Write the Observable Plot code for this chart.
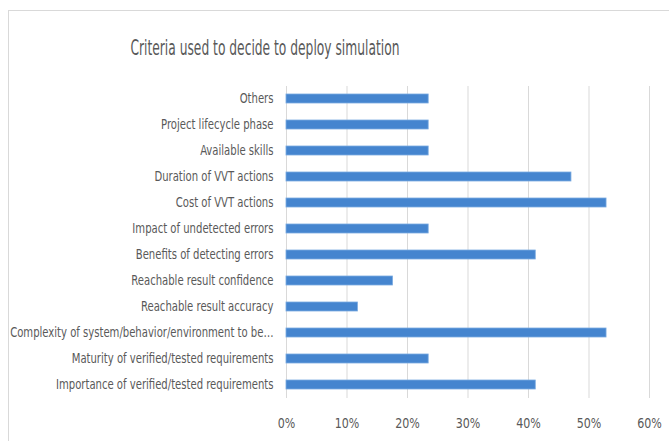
<!DOCTYPE html>
<html><head><meta charset="utf-8">
<script src="https://cdn.jsdelivr.net/npm/d3@7"></script>
<script src="https://cdn.jsdelivr.net/npm/@observablehq/plot@0.6"></script>
<style>
html,body{margin:0;padding:0;background:#fff;width:669px;height:441px;overflow:hidden;position:relative;}
#frame{position:absolute;left:8px;top:10px;width:700px;height:500px;border:1px solid #d9d9d9;box-sizing:border-box;}
#title{position:absolute;left:0;top:35px;width:530px;text-align:center;font-family:"DejaVu Sans Condensed","DejaVu Sans",sans-serif;font-stretch:condensed;font-size:22px;line-height:26px;color:#595959;}
#title span{display:inline-block;transform:scaleX(0.62);transform-origin:center center;white-space:nowrap;}
#chart{position:absolute;left:0;top:70px;}
#chart svg{font-family:"DejaVu Sans Condensed","DejaVu Sans",sans-serif;font-stretch:condensed;}
</style></head>
<body>
<div id="frame"></div>
<div id="title"><span>Criteria used to decide to deploy simulation</span></div>
<div id="chart"></div>
<script>
const categories = [
  "Others",
  "Project lifecycle phase",
  "Available skills",
  "Duration of VVT actions",
  "Cost of VVT actions",
  "Impact of undetected errors",
  "Benefits of detecting errors",
  "Reachable result confidence",
  "Reachable result accuracy",
  "Complexity of system/behavior/environment to be…",
  "Maturity of verified/tested requirements",
  "Importance of verified/tested requirements"
];
const values = [0.235, 0.235, 0.235, 0.471, 0.529, 0.235, 0.412, 0.176, 0.118, 0.529, 0.235, 0.412];
const xTicks = [0, 0.1, 0.2, 0.3, 0.4, 0.5, 0.6];

const data = categories.map((c, i) => ({category: c, value: values[i]}));

const chart = Plot.plot({
  width: 669,
  height: 371,
  marginTop: 16,
  marginBottom: 43,
  marginLeft: 286,
  marginRight: 20,
  style: {fontSize: "14px", color: "#595959", background: "transparent"},
  x: {domain: [0, 0.6], ticks: xTicks, tickFormat: d => Math.round(d * 100) + "%", label: null, tickSize: 0, tickPadding: 20},
  y: {domain: categories, label: null, tickSize: 0, tickPadding: 13, paddingInner: 0.64, paddingOuter: 0.32},
  marks: [
    Plot.gridX(xTicks, {stroke: "#d9d9d9", strokeOpacity: 1, strokeWidth: 1}),
    Plot.barX(data, {x: "value", y: "category", fill: "#4585cf", stroke: "#7aaae0", strokeWidth: 0.8})
  ]
});

// compress tick label glyphs horizontally around their anchor (narrow font look)
function squeeze(selector, k) {
  chart.querySelectorAll(selector).forEach(t => {
    const tr = t.getAttribute("transform");
    if (tr) {
      t.setAttribute("transform", tr + ` scale(${k},1)`);
    } else {
      const x = +(t.getAttribute("x") || 0), y = +(t.getAttribute("y") || 0);
      t.setAttribute("transform", `translate(${x},${y}) scale(${k},1) translate(${-x},${-y})`);
    }
  });
}
squeeze('g[aria-label="y-axis tick label"] text', 0.80);
squeeze('g[aria-label="x-axis tick label"] text', 0.88);

document.getElementById("chart").appendChild(chart);
</script>
</body></html>
